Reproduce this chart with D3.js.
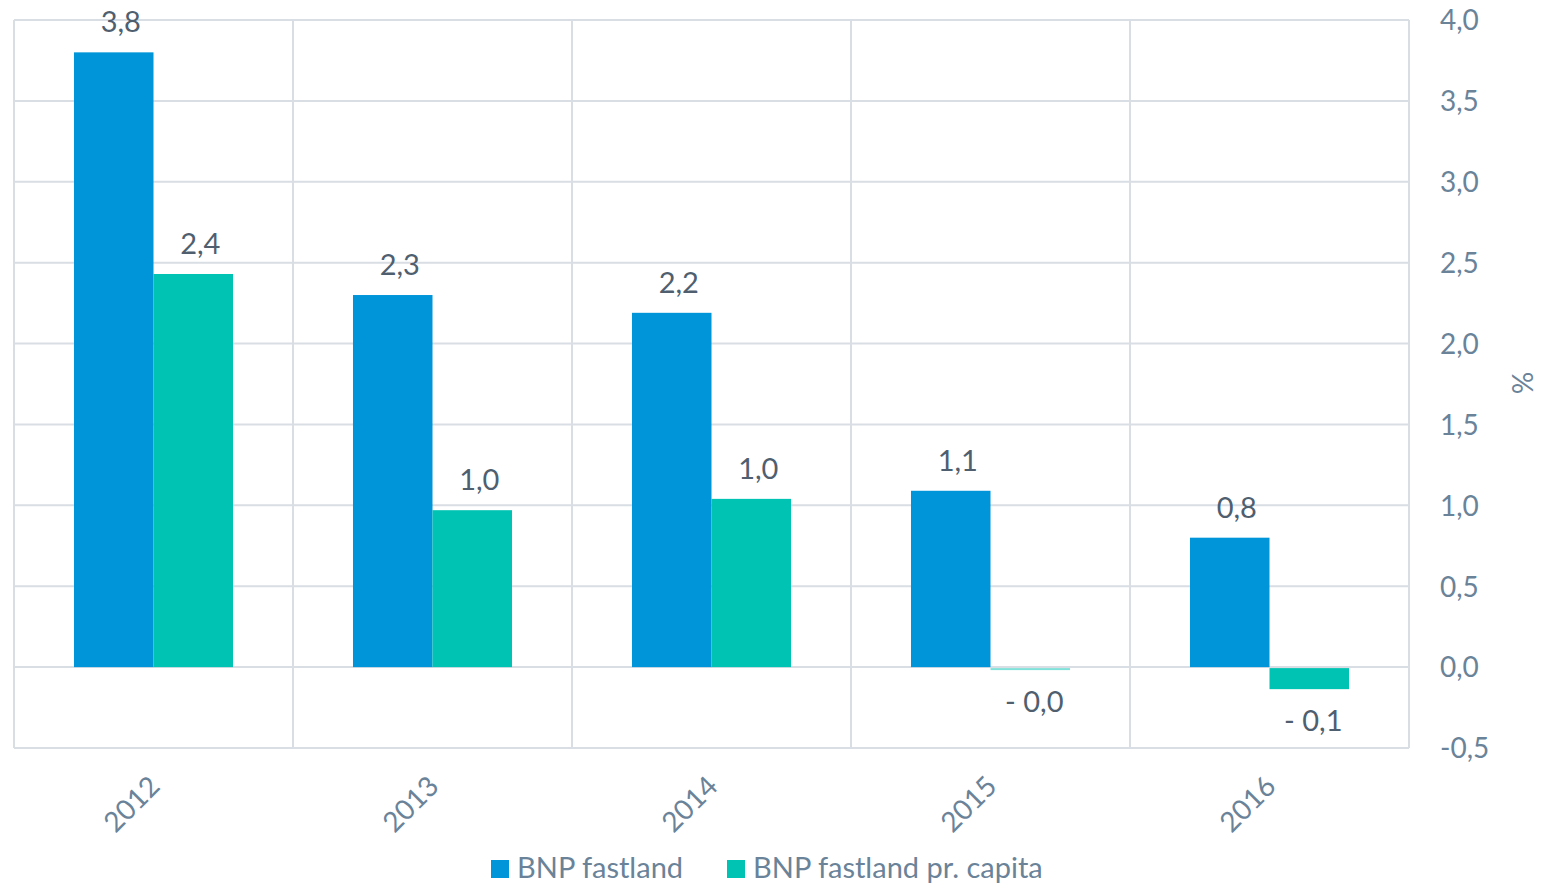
<!DOCTYPE html>
<html>
<head>
<meta charset="utf-8">
<script src="https://cdn.jsdelivr.net/npm/d3@7"></script>
<style>
	body { margin: 0; background: #fff; }
	svg { display: block; font-family: Lato, 'Open Sans', sans-serif; }
</style>
</head>
<body>
<div class="graphic"></div>
<script>
const years = ['2012', '2013', '2014', '2015', '2016']
const bnpFastland = [3.8, 2.3, 2.19, 1.09, 0.8]
const bnpPerCapita = [2.43, 0.97, 1.04, -0.01, -0.13]
const seriesNames = ['BNP fastland', 'BNP fastland pr. capita']
const yTicks = [-0.5, 0, 0.5, 1, 1.5, 2, 2.5, 3, 3.5, 4]

const width = 1544
const height = 886
const plot = { left: 14, right: 1409, top: 20, bottom: 748 }
const colors = ['#0095d9', '#00c3b3']

const fmt = v => {
	const s = Math.abs(v).toFixed(1).replace('.', ',')
	return v < 0 ? '- ' + s : s
}

const data = years.map((y, i) => ({ year: y, values: [bnpFastland[i], bnpPerCapita[i]] }))

const svg = d3.select('.graphic').append('svg')
	.attr('width', width)
	.attr('height', height)

const x = d3.scaleBand()
	.domain(years)
	.range([plot.left, plot.right])

const xInner = d3.scaleBand()
	.domain([0, 1])
	.range([x.bandwidth() * 0.215, x.bandwidth() * 0.785])

const y = d3.scaleLinear()
	.domain([-0.5, 4])
	.range([plot.bottom, plot.top])

// grid
const grid = svg.append('g').attr('stroke', '#d9dee4').attr('stroke-width', 2)
grid.selectAll('.h')
	.data(yTicks)
	.enter().append('line')
	.attr('x1', plot.left).attr('x2', plot.right)
	.attr('y1', d => y(d)).attr('y2', d => y(d))
grid.selectAll('.v')
	.data(years.concat(['end']))
	.enter().append('line')
	.attr('x1', (d, i) => plot.left + i * x.step())
	.attr('x2', (d, i) => plot.left + i * x.step())
	.attr('y1', plot.top).attr('y2', plot.bottom)

// bars
const groups = svg.append('g')
	.selectAll('g')
	.data(data)
	.enter().append('g')
	.attr('transform', d => `translate(${x(d.year)},0)`)

groups.selectAll('rect')
	.data(d => d.values)
	.enter().append('rect')
	.attr('x', (d, i) => xInner(i))
	.attr('width', xInner.bandwidth())
	.attr('y', d => y(Math.max(0, d)) + (d < 0 ? 1 : 0))
	.attr('height', d => Math.max(2, Math.abs(y(d) - y(0))))
	.attr('fill', (d, i) => colors[i])
	.attr('opacity', d => Math.abs(d) < 0.05 ? 0.5 : 1)

groups.selectAll('text')
	.data(d => d.values)
	.enter().append('text')
	.attr('x', (d, i) => xInner(i) + xInner.bandwidth() / 2 + (d >= 0 ? 7 : 4))
	.attr('y', d => d >= 0 ? y(d) - 20 : y(d) + 43)
	.attr('text-anchor', 'middle')
	.attr('font-size', 29)
	.attr('fill', '#4f5f70')
	.text(d => fmt(d))

// right axis
const yAxis = svg.append('g')
	.attr('transform', `translate(${plot.right + 31},0)`)
	.call(d3.axisRight(y).tickValues(yTicks).tickSize(0).tickFormat(d => d.toFixed(1).replace('.', ',')))
yAxis.select('.domain').remove()
yAxis.selectAll('text')
	.attr('x', 0)
	.attr('dy', '0.35em')
	.attr('font-size', 28)
	.attr('font-family', 'Lato, sans-serif')
	.attr('fill', '#6a8399')

svg.append('text')
	.attr('transform', `translate(1512,383) rotate(90)`)
	.attr('text-anchor', 'middle')
	.attr('font-size', 28)
	.attr('fill', '#6a8399')
	.text('%')

// x axis labels
const xAxis = svg.append('g')
	.attr('transform', `translate(0,${plot.bottom})`)
	.call(d3.axisBottom(x).tickSize(0))
xAxis.select('.domain').remove()
xAxis.selectAll('text')
	.attr('font-size', 28)
	.attr('font-family', 'Lato, sans-serif')
	.attr('fill', '#6a8399')
	.attr('text-anchor', 'end')
	.attr('dy', 0)
	.attr('y', 0)
	.attr('transform', 'translate(8,40) rotate(-45)')

// legend
const legend = svg.append('g')
	.attr('transform', 'translate(491,860)')
const items = legend.selectAll('g')
	.data(seriesNames)
	.enter().append('g')
	.attr('transform', (d, i) => `translate(${i * 236},0)`)
items.append('rect')
	.attr('width', 18).attr('height', 18)
	.attr('fill', (d, i) => colors[i])
items.append('text')
	.attr('x', 26).attr('y', 18)
	.attr('font-size', 29)
	.attr('fill', '#6a8399')
	.text(d => d)
</script>
</body>
</html>
